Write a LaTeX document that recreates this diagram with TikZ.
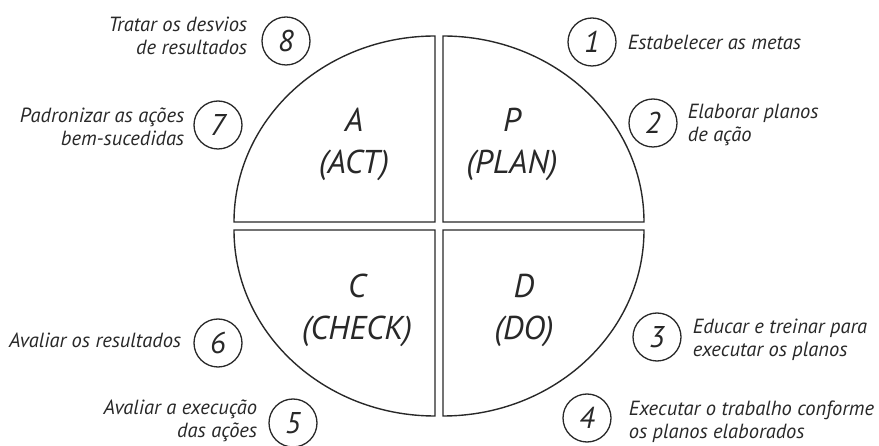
\documentclass[tikz,border=0pt]{standalone}
\usepackage{fontspec}
\setmainfont{PT Sans}
\usetikzlibrary{positioning}
\definecolor{ink}{RGB}{40,40,40}
\begin{document}
\begin{tikzpicture}
    [x=1pt, y=1pt,
     every node/.style={text=ink, font=\itshape},
     quadrant/.style={draw=ink, line width=1.4pt, line join=miter},
     bigletter/.style={font=\itshape\fontsize{33}{42}\selectfont, align=center},
     numcircle/.style={circle, draw=ink, line width=1.3pt, minimum size=48pt, inner sep=0pt, font=\itshape\fontsize{30}{30}\selectfont},
     lefttext/.style={font=\itshape\fontsize{20.5}{23}\selectfont, align=right, inner sep=1pt},
     righttext/.style={font=\itshape\fontsize{20.5}{23}\selectfont, align=left, inner sep=1pt}]

    \useasboundingbox (0,0) rectangle (879,-446);

    % the four quarters
    \draw[quadrant] (435,-222) -- (435,-36) arc[start angle=90, end angle=180, x radius=201pt, y radius=186pt] -- cycle;
    \draw[quadrant] (443,-222) -- (443,-36) arc[start angle=90, end angle=0, x radius=201pt, y radius=186pt] -- cycle;
    \draw[quadrant] (435,-230) -- (435,-416) arc[start angle=270, end angle=180, x radius=201pt, y radius=186pt] -- cycle;
    \draw[quadrant] (443,-230) -- (443,-416) arc[start angle=270, end angle=360, x radius=201pt, y radius=186pt] -- cycle;

    \node[bigletter] (act) at (354,-144) {A\\(ACT)};
    \node[bigletter] (plan) at (512,-144) {P\\(PLAN)};
    \node[bigletter] (check) at (357,-310) {C\\(CHECK)};
    \node[bigletter] (do) at (524,-310) {D\\(DO)};

    % steps
    \node[numcircle] (n1) at (592,-42) {1};
    \node[numcircle] (n2) at (653,-123) {2};
    \node[numcircle] (n3) at (657,-337) {3};
    \node[numcircle] (n4) at (587,-418) {4};
    \node[numcircle] (n5) at (293,-423) {5};
    \node[numcircle] (n6) at (218,-343) {6};
    \node[numcircle] (n7) at (218,-125) {7};
    \node[numcircle] (n8) at (286,-41) {8};

    \node[righttext, right=10pt of n1] (t1) {Estabelecer as metas};
    \node[righttext, right=9pt of n2, yshift=-2pt] (t2) {Elaborar planos\\de ação};
    \node[righttext, right=10pt of n3, yshift=-3pt] (t3) {Educar e treinar para\\executar os planos};
    \node[righttext, right=16pt of n4, yshift=-4pt] (t4) {Executar o trabalho conforme\\os planos elaborados};
    \node[lefttext, left=10pt of n5, yshift=2pt] (t5) {Avaliar a execução\\das ações};
    \node[lefttext, left=11pt of n6, yshift=3pt] (t6) {Avaliar os resultados};
    \node[lefttext, left=8pt of n7, yshift=-2pt] (t7) {Padronizar as ações\\bem-sucedidas};
    \node[lefttext, left=13pt of n8, yshift=5pt] (t8) {Tratar os desvios\\de resultados};
\end{tikzpicture}
\end{document}
